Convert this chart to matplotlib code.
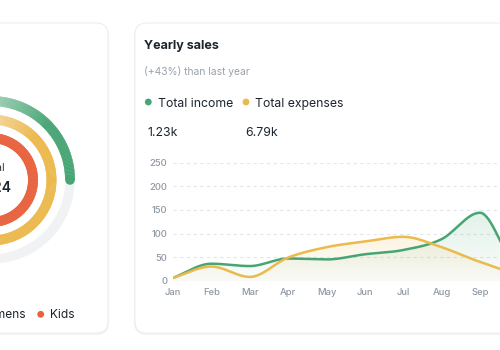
import numpy as np
import matplotlib
matplotlib.use("Agg")
import matplotlib.pyplot as plt
from matplotlib.patches import FancyBboxPatch, Wedge, Circle, PathPatch
from matplotlib.colors import to_rgb

plt.rcParams['font.family'] = ['Inter', 'DejaVu Sans']

# yearly sales (Oct-Dec lie outside the crop)
months = ['Jan', 'Feb', 'Mar', 'Apr', 'May', 'Jun', 'Jul', 'Aug', 'Sep', 'Oct', 'Nov', 'Dec']
income = [6, 36, 31, 47, 45, 56, 65, 88, 144, 35, 45, 55]
expenses = [6, 30, 8, 49, 71, 83, 93, 71, 40, 18, 30, 35]
y_ticks = [0, 50, 100, 150, 200, 250]
series_names = ['Total income', 'Total expenses']
series_totals = ['1.23k', '6.79k']

# sale by gender card (percent of ring)
gender_labels = ['Mens', 'Womens', 'Kids']
gender_values = [25, 50, 75]
gender_total = '2,324'

GREEN = '#47a574'
YELLOW = '#ecb94b'
RED = '#e8613c'
DARK = '#1c252e'
GREY = '#8f98a3'


def monotone(x, y, n=40):
    # monotone cubic (like d3 curveMonotoneX) for drawing the smooth line
    x = np.asarray(x, float)
    y = np.asarray(y, float)
    h = np.diff(x)
    s = np.diff(y) / h
    m = np.zeros_like(y)
    for i in range(1, len(y) - 1):
        p = (s[i - 1] * h[i] + s[i] * h[i - 1]) / (h[i - 1] + h[i])
        m[i] = (np.sign(s[i - 1]) + np.sign(s[i])) * min(abs(s[i - 1]), abs(s[i]), 0.5 * abs(p))
    m[0] = s[0]
    m[-1] = s[-1]
    xs, ys = [], []
    for i in range(len(y) - 1):
        t = np.linspace(0, 1, n, endpoint=False)
        h00 = 2 * t**3 - 3 * t**2 + 1
        h10 = t**3 - 2 * t**2 + t
        h01 = -2 * t**3 + 3 * t**2
        h11 = t**3 - t**2
        xs.append(x[i] + t * h[i])
        ys.append(h00 * y[i] + h10 * h[i] * m[i] + h01 * y[i + 1] + h11 * h[i] * m[i + 1])
    xs.append([x[-1]])
    ys.append([y[-1]])
    return np.concatenate(xs), np.concatenate(ys)


def lighten(c, k):
    r = np.array(to_rgb(c))
    return tuple(r + (1 - r) * k)


fig = plt.figure(figsize=(5, 3.5), dpi=100)
fig.patch.set_facecolor('white')

# background axes in pixel units
bg = fig.add_axes([0, 0, 1, 1])
bg.set_xlim(0, 500)
bg.set_ylim(350, 0)
bg.axis('off')

for (x0, x1) in [(-40, 108), (135, 540)]:
    shadow = FancyBboxPatch((x0, 24), x1 - x0, 310, boxstyle='round,pad=0,rounding_size=12',
                            fc='none', ec='#e4e6e9', lw=1.6, alpha=0.5)
    bg.add_patch(shadow)
    card = FancyBboxPatch((x0, 23), x1 - x0, 310, boxstyle='round,pad=0,rounding_size=12',
                          fc='white', ec='#eceef0', lw=0.7)
    bg.add_patch(card)

# radial bars
cx, cy = -9, 180
radii = [79, 60.5, 42]
ring_w = 9.5
colors = [GREEN, YELLOW, RED]
fade = [0.5, 0.45, 0.0]
for val, r, col, fd in zip(gender_values, radii, colors, fade):
    bg.add_patch(Wedge((cx, cy), r + ring_w / 2, 0, 360, width=ring_w, fc='#f1f2f4', ec='none'))
    span = 360 * val / 100
    n = int(span)
    for k in range(n):
        a0 = 90 - span * k / n
        a1 = 90 - span * (k + 1) / n
        t = min(span * k / n / 45.0, 1.0)
        c = lighten(col, fd * (1 - t))
        # y axis is flipped, so mirror the angles
        bg.add_patch(Wedge((cx, cy), r + ring_w / 2, -a0, -a1, width=ring_w, fc=c, ec=c, lw=0.3))
    end = np.deg2rad(90 - span)
    bg.add_patch(Circle((cx + r * np.cos(end), cy - r * np.sin(end)), ring_w / 2, fc=col, ec='none'))
    bg.add_patch(Circle((cx, cy - r), ring_w / 2, fc=lighten(col, fd), ec='none'))

bg.text(cx + 1, 168, 'Total', fontsize=7.8, color='#333b44', ha='center', va='center')
bg.text(cx, 188, gender_total, fontsize=10, fontweight='semibold', color=DARK, ha='center', va='center')

# left legend, laid out from the right
renderer = fig.canvas.get_renderer()
x_dot = 40.7
bg.text(x_dot + 9.3, 317.7, gender_labels[-1], fontsize=8.6, color=DARK, ha='left', va='baseline')
for i in range(len(gender_labels) - 1, -1, -1):
    bg.add_patch(Circle((x_dot, 314.3), 3.4, fc=colors[i], ec='none'))
    if i > 0:
        t = bg.text(x_dot - 14, 317.7, gender_labels[i - 1], fontsize=8.6, color=DARK,
                    ha='right', va='baseline')
        bb = t.get_window_extent(renderer)
        x_dot = bb.x0 - 9.3

# right card header
bg.text(143.5, 49.3, 'Yearly sales', fontsize=9, fontweight='bold', color=DARK, va='baseline')
bg.text(143.5, 75, '(+43%) than last year', fontsize=7.4, color='#9aa1aa', va='baseline')
for name, total, col, xd, xv in zip(series_names, series_totals, [GREEN, YELLOW], [148.3, 246], [147.3, 245]):
    bg.add_patch(Circle((xd, 102), 3.4, fc=col, ec='none'))
    bg.text(xd + 9.4, 107.3, name, fontsize=8.8, color=DARK, va='baseline')
    bg.text(xv, 135.7, total, fontsize=8.8, color=DARK, va='baseline')

# line chart, wider than the figure (Oct-Dec are cut off like the screenshot)
left, right, top, bottom = 173, 595, 162.7, 280.7
ax = fig.add_axes([left / 500, (350 - bottom) / 350, (right - left) / 500, (bottom - top) / 350])
ax.patch.set_alpha(0)
x = np.arange(len(months))

for vals, col, z in [(income, GREEN, 3), (expenses, YELLOW, 4)]:
    xs, ys = monotone(x, vals)
    poly = ax.fill_between(xs, ys, 0, color='none', lw=0)
    clip = PathPatch(poly.get_paths()[0], transform=ax.transData, fc='none', ec='none')
    ax.add_patch(clip)
    grad = np.zeros((100, 1, 4))
    grad[..., :3] = to_rgb(col)
    grad[:, 0, 3] = np.linspace(0.03, 0.15, 100)
    im = ax.imshow(grad, extent=[xs.min(), xs.max(), 0, max(vals)], origin='lower',
                   aspect='auto', zorder=1)
    im.set_clip_path(clip)
    ax.plot(xs, ys, color=col, lw=1.8, zorder=z, solid_capstyle='round')

ax.set_xlim(0, len(months) - 1)
ax.set_ylim(0, 250)
ax.set_xticks(x)
ax.set_xticklabels(months)
ax.set_yticks(y_ticks)
for yv in y_ticks:
    ax.axhline(yv, color='#e3e6ea', lw=0.8, ls=(0, (3, 3)), zorder=0)
for s in ax.spines.values():
    s.set_visible(False)
ax.tick_params(length=0, labelsize=6.8, labelcolor=GREY)
ax.tick_params(axis='y', pad=4.2)
ax.tick_params(axis='x', pad=5.5)
for lab in ax.get_xticklabels() + ax.get_yticklabels():
    lab.set_fontweight('medium')

fig.savefig('out.png', dpi=100, facecolor='white')
